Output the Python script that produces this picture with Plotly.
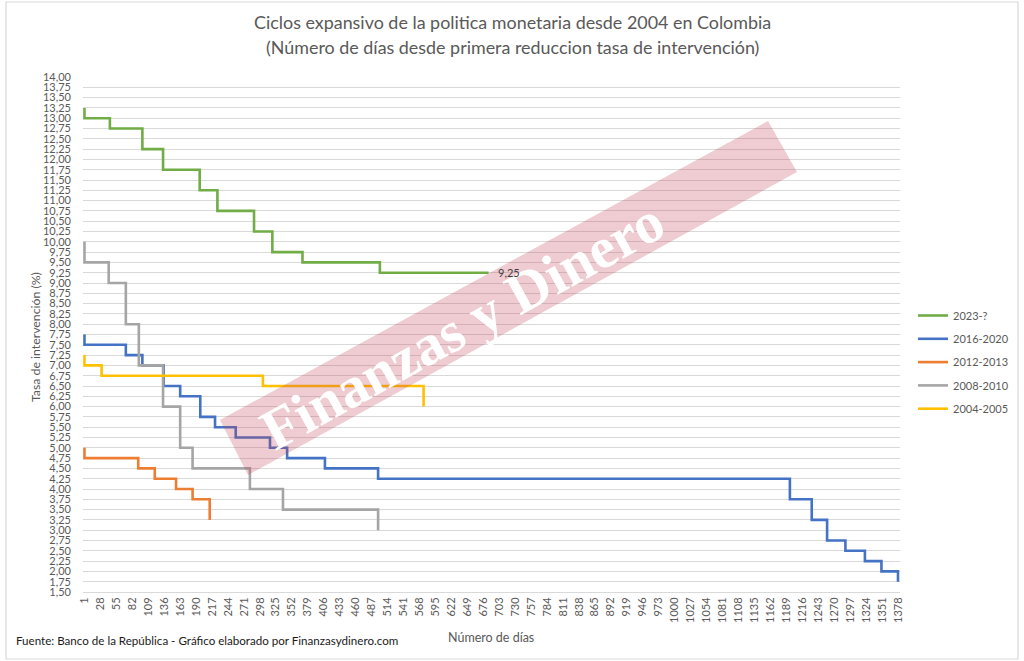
import plotly.graph_objects as go

# ---------------- data ----------------
series_names = ["2023-?", "2016-2020", "2012-2013", "2008-2010", "2004-2005"]

days_2023 = [1, 1, 44, 99, 134, 196, 226, 288, 319, 370, 501, 685]
rate_2023 = [13.25, 13.00, 12.75, 12.25, 11.75, 11.25, 10.75, 10.25, 9.75, 9.50, 9.25, 9.25]

days_2016 = [1, 1, 71, 99, 135, 163, 197, 222, 257, 315, 344, 408, 498,
             1195, 1232, 1258, 1289, 1322, 1350, 1378]
rate_2016 = [7.75, 7.50, 7.25, 7.00, 6.50, 6.25, 5.75, 5.50, 5.25, 5.00, 4.75, 4.50, 4.25,
             3.75, 3.25, 2.75, 2.50, 2.25, 2.00, 1.75]

days_2012 = [1, 1, 92, 120, 156, 184, 213]
rate_2012 = [5.00, 4.75, 4.50, 4.25, 4.00, 3.75, 3.25]

days_2008 = [1, 1, 42, 71, 93, 134, 163, 184, 281, 337, 498]
rate_2008 = [10.00, 9.50, 9.00, 8.00, 7.00, 6.00, 5.00, 4.50, 4.00, 3.50, 3.00]

days_2004 = [1, 1, 30, 303, 575]
rate_2004 = [7.25, 7.00, 6.75, 6.50, 6.00]

x_ticks = [1, 28, 55, 82, 109, 136, 163, 190, 217, 244, 271, 298, 325, 352, 379, 406,
           433, 460, 487, 514, 541, 568, 595, 622, 649, 676, 703, 730, 757, 784, 811,
           838, 865, 892, 919, 946, 973, 1000, 1027, 1054, 1081, 1108, 1135, 1162,
           1189, 1216, 1243, 1270, 1297, 1324, 1351, 1378]
y_ticks = [1.50, 1.75, 2.00, 2.25, 2.50, 2.75, 3.00, 3.25, 3.50, 3.75, 4.00, 4.25, 4.50,
           4.75, 5.00, 5.25, 5.50, 5.75, 6.00, 6.25, 6.50, 6.75, 7.00, 7.25, 7.50, 7.75,
           8.00, 8.25, 8.50, 8.75, 9.00, 9.25, 9.50, 9.75, 10.00, 10.25, 10.50, 10.75,
           11.00, 11.25, 11.50, 11.75, 12.00, 12.25, 12.50, 12.75, 13.00, 13.25, 13.50,
           13.75, 14.00]

colors = ["#70ad47", "#4472c4", "#ed7d31", "#a5a5a5", "#ffc000"]
all_days = [days_2023, days_2016, days_2012, days_2008, days_2004]
all_rates = [rate_2023, rate_2016, rate_2012, rate_2008, rate_2004]

# ---------------- layout geometry (pixels) ----------------
W, H = 1024, 661
L, R, T, B = 83, 900, 77, 592


def px(x):
    return (x - L) / (R - L)


def py(y):
    return (B - y) / (B - T)


FONT = "Lato"
GREY = "#595959"

fig = go.Figure()
for name, d, r, c in zip(series_names, all_days, all_rates, colors):
    fig.add_trace(go.Scatter(
        x=d, y=r, name=name, mode="lines",
        line=dict(color=c, width=2.6, shape="hv"),
        legendgroup=name,
    ))

annotations = [
    dict(text="Finanzas y Dinero", x=px(462), y=py(325), xref="paper", yref="paper",
         showarrow=False, textangle=-29, xanchor="center", yanchor="middle",
         font=dict(family="Liberation Serif", size=58, color="white", weight="bold")),
    dict(text="Ciclos expansivo de la politica monetaria desde 2004 en Colombia",
         x=px(512), y=py(22), xref="paper", yref="paper", showarrow=False,
         xanchor="center", yanchor="middle", font=dict(family=FONT, size=17.9, color=GREY)),
    dict(text="(Número de días desde primera reduccion tasa de intervención)",
         x=px(512), y=py(47), xref="paper", yref="paper", showarrow=False,
         xanchor="center", yanchor="middle", font=dict(family=FONT, size=17.9, color=GREY)),
    dict(text="Tasa de intervención (%)", x=px(35), y=py(337), xref="paper", yref="paper",
         showarrow=False, textangle=-90, xanchor="center", yanchor="middle",
         font=dict(family=FONT, size=12.3, color=GREY)),
    dict(text="Número de días", x=px(491), y=py(637), xref="paper", yref="paper",
         showarrow=False, xanchor="center", yanchor="middle",
         font=dict(family=FONT, size=12.5, color=GREY)),
    dict(text="Fuente: Banco de la República - Gráfico elaborado por Finanzasydinero.com",
         x=px(14), y=py(640), xref="paper", yref="paper", showarrow=False,
         xanchor="left", yanchor="middle", font=dict(family=FONT, size=11.6, color="#1a1a1a")),
    dict(text=f"{rate_2023[-1]:.2f}".replace(".", ","), x=days_2023[-1], y=rate_2023[-1],
         xref="x", yref="y", showarrow=False, xanchor="left", yanchor="middle", xshift=7,
         font=dict(family=FONT, size=11, color="#404040")),
]

band = [(220, 420), (768, 121), (797, 172), (248, 475)]
path = "M " + " L ".join(f"{px(a):.4f},{py(b):.4f}" for a, b in band) + " Z"

shapes = [
    dict(type="rect", xref="paper", yref="paper", x0=px(6), x1=px(1018), y0=py(2), y1=py(659),
         line=dict(color="#d9d9d9", width=1.2), fillcolor="rgba(0,0,0,0)", layer="below"),
    dict(type="path", xref="paper", yref="paper", path=path,
         fillcolor="rgba(195,65,85,0.27)", line=dict(width=0), layer="above"),
]

fig.update_layout(
    width=W, height=H,
    margin=dict(l=L, r=W - R, t=T, b=H - B, autoexpand=False),
    paper_bgcolor="white", plot_bgcolor="white",
    separators=",.",
    font=dict(family=FONT, size=11, color=GREY),
    showlegend=True,
    legend=dict(x=px(913), y=py(301), xanchor="left", yanchor="top",
                font=dict(family=FONT, size=11, color=GREY),
                tracegroupgap=4.3, itemwidth=30, bgcolor="rgba(0,0,0,0)"),
    annotations=annotations,
    shapes=shapes,
)

fig.update_xaxes(
    range=[-1.5, 1381.4], tickmode="array", tickvals=x_ticks,
    ticktext=[str(v) for v in x_ticks], tickangle=-90, showgrid=False,
    zeroline=False, showline=True, linecolor="#d9d9d9", linewidth=1,
    tickfont=dict(family=FONT, size=11, color=GREY), ticks="", automargin=False,
)
fig.update_yaxes(
    range=[1.5, 14.0], tickmode="array", tickvals=y_ticks,
    ticktext=[f"{v:.2f}".replace(".", ",") for v in y_ticks],
    showgrid=True, gridcolor="#d9d9d9", gridwidth=1, zeroline=False, showline=False,
    tickfont=dict(family=FONT, size=11, color=GREY), ticks="", automargin=False,
    ticklabelstandoff=11,
)

fig.write_html("out.html",
               config={"displayModeBar": False},
               post_script="document.body.style.margin='0';document.body.style.overflow='hidden';")
